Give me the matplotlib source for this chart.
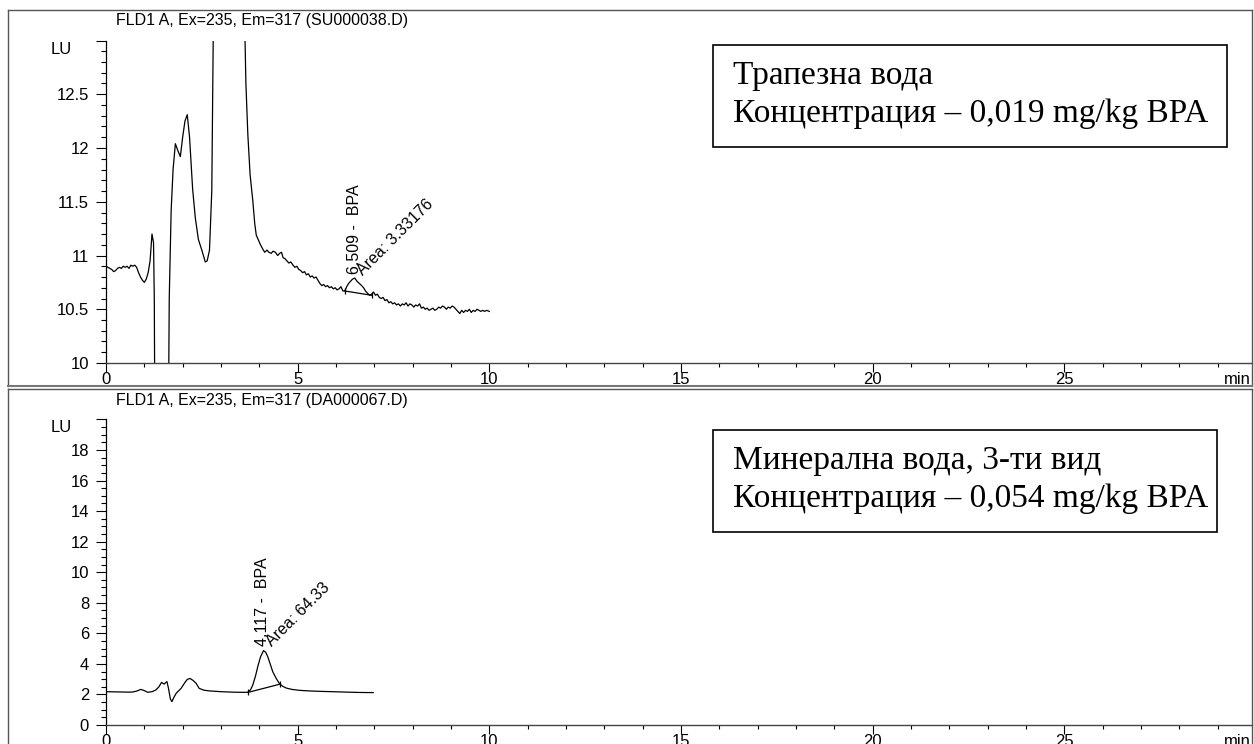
import matplotlib
matplotlib.use("Agg")
import matplotlib.pyplot as plt
from matplotlib.lines import Line2D
from matplotlib.patches import Rectangle
from matplotlib.ticker import MultipleLocator, FixedLocator, FixedFormatter

plt.rcParams['font.family'] = ['Liberation Sans', 'DejaVu Sans']

# --- top chromatogram (SU000038.D), retention time in min, signal in LU
top_title = "FLD1 A, Ex=235, Em=317 (SU000038.D)"
top_t = [0.00, 0.05, 0.10, 0.15, 0.20, 0.25, 0.30, 0.35, 0.40, 0.45, 0.50, 0.55,
         0.60, 0.65, 0.70, 0.75, 0.80, 0.85, 0.90, 0.95, 1.00, 1.05, 1.10, 1.15,
         1.20, 1.24, 1.26, 1.28, 1.62, 1.65, 1.70, 1.75, 1.81, 1.87, 1.94, 2.00,
         2.06, 2.12, 2.18, 2.26, 2.33, 2.41, 2.50, 2.59, 2.64, 2.70, 2.76, 2.81,
         3.60, 3.65, 3.70, 3.76, 3.83, 3.88, 3.92, 3.97, 4.03, 4.09, 4.14, 4.20,
         4.25, 4.31, 4.36, 4.42, 4.48, 4.53, 4.58, 4.62, 4.67, 4.72, 4.77, 4.82,
         4.88, 4.93, 4.98, 5.03, 5.08, 5.13, 5.18, 5.23, 5.28, 5.33, 5.38, 5.43,
         5.48, 5.53, 5.58, 5.63, 5.68, 5.73, 5.78, 5.83, 5.88, 5.93, 5.98, 6.03,
         6.08, 6.13, 6.18, 6.23, 6.28, 6.33, 6.38, 6.43, 6.49, 6.55, 6.61, 6.67,
         6.72, 6.77, 6.82, 6.88, 6.93, 6.98, 7.03, 7.08, 7.13, 7.18, 7.23, 7.28,
         7.33, 7.38, 7.43, 7.48, 7.53, 7.58, 7.63, 7.68, 7.73, 7.78, 7.83, 7.88,
         7.93, 7.98, 8.03, 8.08, 8.13, 8.18, 8.23, 8.28, 8.33, 8.38, 8.43, 8.48,
         8.53, 8.58, 8.63, 8.68, 8.73, 8.78, 8.83, 8.88, 8.93, 8.98, 9.03, 9.08,
         9.13, 9.18, 9.23, 9.28, 9.33, 9.38, 9.43, 9.48, 9.53, 9.58, 9.63, 9.68,
         9.73, 9.78, 9.83, 9.88, 9.93, 10.00]
top_lu = [10.90, 10.89, 10.88, 10.87, 10.85, 10.86, 10.88, 10.89, 10.88, 10.90, 10.89, 10.90,
          10.88, 10.91, 10.90, 10.91, 10.89, 10.84, 10.80, 10.77, 10.75, 10.78, 10.84, 10.95,
          11.20, 11.12, 10.60, 9.00, 9.00, 10.60, 11.42, 11.80, 12.04, 11.98, 11.92, 12.10,
          12.25, 12.31, 12.10, 11.62, 11.35, 11.15, 11.05, 10.94, 10.95, 11.05, 11.60, 13.50,
          13.50, 12.60, 12.13, 11.75, 11.51, 11.30, 11.19, 11.15, 11.10, 11.06, 11.03, 11.05,
          11.03, 11.02, 11.04, 11.03, 11.00, 11.02, 11.03, 10.98, 10.97, 10.95, 10.93, 10.94,
          10.91, 10.89, 10.90, 10.87, 10.86, 10.84, 10.85, 10.82, 10.83, 10.80, 10.81, 10.79,
          10.80, 10.77, 10.74, 10.72, 10.73, 10.71, 10.72, 10.70, 10.71, 10.69, 10.70, 10.68,
          10.69, 10.71, 10.67, 10.67, 10.71, 10.74, 10.76, 10.78, 10.79, 10.76, 10.74, 10.72,
          10.70, 10.67, 10.65, 10.63, 10.64, 10.66, 10.63, 10.64, 10.61, 10.60, 10.61, 10.58,
          10.59, 10.56, 10.57, 10.55, 10.56, 10.54, 10.55, 10.53, 10.55, 10.54, 10.56, 10.53,
          10.55, 10.54, 10.52, 10.54, 10.53, 10.55, 10.51, 10.52, 10.50, 10.51, 10.49, 10.50,
          10.51, 10.49, 10.50, 10.52, 10.51, 10.53, 10.52, 10.50, 10.52, 10.51, 10.53, 10.52,
          10.50, 10.48, 10.46, 10.49, 10.47, 10.49, 10.48, 10.50, 10.47, 10.49, 10.48, 10.50,
          10.49, 10.48, 10.49, 10.48, 10.49, 10.48]
top_base_t = [6.23, 6.93]
top_base_lu = [10.67, 10.63]
top_peak_label = "6.509 -  BPA"
top_area_label = "Area: 3.33176"
top_box = ["Трапезна вода", "Концентрация – 0,019 mg/kg BPA"]

# --- bottom chromatogram (DA000067.D)
bot_title = "FLD1 A, Ex=235, Em=317 (DA000067.D)"
bot_t = [0.00, 0.20, 0.40, 0.60, 0.70, 0.80, 0.91, 1.00, 1.09, 1.20, 1.30, 1.38,
         1.45, 1.49, 1.52, 1.56, 1.59, 1.63, 1.68, 1.72, 1.77, 1.83, 1.90, 1.96,
         2.05, 2.12, 2.19, 2.27, 2.35, 2.43, 2.55, 2.70, 3.00, 3.30, 3.50, 3.70,
         3.77, 3.83, 3.90, 3.96, 4.03, 4.11, 4.17, 4.22, 4.29, 4.35, 4.44, 4.52,
         4.60, 4.70, 4.85, 5.04, 5.30, 5.60, 5.91, 6.30, 6.60, 6.97]
bot_lu = [2.18, 2.17, 2.16, 2.15, 2.16, 2.22, 2.33, 2.25, 2.14, 2.18, 2.29, 2.50,
          2.79, 2.72, 2.68, 2.78, 2.84, 2.40, 1.70, 1.53, 1.80, 2.07, 2.25, 2.40,
          2.75, 2.98, 3.05, 2.92, 2.73, 2.40, 2.28, 2.23, 2.18, 2.15, 2.14, 2.14,
          2.30, 2.62, 3.20, 3.82, 4.45, 4.87, 4.75, 4.47, 3.95, 3.49, 3.05, 2.73,
          2.55, 2.42, 2.33, 2.27, 2.23, 2.20, 2.18, 2.15, 2.13, 2.12]
bot_base_t = [3.70, 4.55]
bot_base_lu = [2.13, 2.68]
bot_peak_label = "4.117 -  BPA"
bot_area_label = "Area: 64.33"
bot_box = ["Минерална вода, 3-ти вид", "Концентрация – 0,054 mg/kg BPA"]

W, H = 1254, 744
fig = plt.figure(figsize=(W / 100, H / 100), dpi=100)


def fx(px):
    return px / W


def fy(py):
    return 1 - py / H


def frame(y0, y1):
    for xs, ys in [([8, 1252], [y0, y0]), ([8, 8], [y0, y1]), ([1252, 1252], [y0, y1])]:
        fig.add_artist(Line2D([fx(v) for v in xs], [fy(v) for v in ys],
                              color='#555555', lw=1.0))


frame(10, 386)
frame(389, 760)
fig.add_artist(Line2D([fx(8), fx(1252)], [fy(386), fy(386)], color='#777777', lw=1.5))


def chrom(ax, t, lu, base_t, base_lu, ylim, major, minor, peak_lbl, area_lbl,
          peak_xy, area_xy):
    ax.plot(t, lu, color='black', lw=0.9)
    ax.plot(base_t, base_lu, color='black', lw=0.9)
    ax.plot(base_t, base_lu, ls='none', marker='|', ms=5, mew=0.9, color='black')
    ax.set_xlim(0, 29.9)
    ax.set_ylim(*ylim)
    for s in ['top', 'right']:
        ax.spines[s].set_visible(False)
    ax.spines['left'].set_linewidth(0.9)
    ax.spines['bottom'].set_color('#444444')
    ax.spines['bottom'].set_linewidth(1.0)
    ax.xaxis.set_major_locator(MultipleLocator(5))
    ax.xaxis.set_minor_locator(MultipleLocator(1))
    yt = major
    ax.yaxis.set_major_locator(FixedLocator(yt))
    ax.yaxis.set_major_formatter(FixedFormatter([('%g' % v) for v in yt[:-1]] + ['']))
    ax.yaxis.set_minor_locator(MultipleLocator(minor))
    ax.tick_params(axis='y', which='major', length=7.2, width=0.8, pad=5, labelsize=12)
    ax.tick_params(axis='y', which='minor', length=3.6, width=0.8)
    ax.tick_params(axis='x', which='major', length=6.5, width=0.8, pad=0, labelsize=12)
    ax.tick_params(axis='x', which='minor', length=2.6, width=0.8)
    ax.text(peak_xy[0], peak_xy[1], peak_lbl, rotation=90, ha='center', va='bottom',
            fontsize=11.5)
    ax.text(area_xy[0], area_xy[1], area_lbl, rotation=45, rotation_mode='anchor',
            ha='left', va='baseline', fontsize=11.5)


ax1 = fig.add_axes([fx(106), fy(363), fx(1252 - 106), (363 - 40.5) / H])
chrom(ax1, top_t, top_lu, top_base_t, top_base_lu, (10, 13),
      [10, 10.5, 11, 11.5, 12, 12.5, 13], 0.1, top_peak_label, top_area_label,
      (6.49, 10.83), (6.70, 10.81))

ax2 = fig.add_axes([fx(106), fy(725), fx(1252 - 106), (725 - 419.4) / H])
chrom(ax2, bot_t, bot_lu, bot_base_t, bot_base_lu, (0, 20),
      list(range(0, 21, 2)), 0.5, bot_peak_label, bot_area_label,
      (4.09, 5.2), (4.32, 5.1))

for y, ttl in [(21, top_title), (400, bot_title)]:
    fig.text(fx(262), fy(y), ttl, ha='center', va='center', fontsize=11.5)
for y in [50, 427]:
    fig.text(fx(61), fy(y), "LU", ha='center', va='center', fontsize=12)
for y in [379, 741]:
    fig.text(fx(1251), fy(y), "min", ha='right', va='center', fontsize=12)

for (x0, y0, x1, y1), lines in [((713, 45, 1227, 147), top_box),
                                 ((713, 430, 1217, 532), bot_box)]:
    fig.add_artist(Rectangle((fx(x0), fy(y1)), fx(x1 - x0), (y1 - y0) / H,
                             fill=False, ec='black', lw=1.2))
    for i, line in enumerate(lines):
        fig.text(fx(733), fy(y0 + 31 + 38 * i), line, ha='left', va='center',
                 family=['Liberation Serif', 'DejaVu Serif'], fontsize=24)

fig.savefig("out.png", dpi=100)
